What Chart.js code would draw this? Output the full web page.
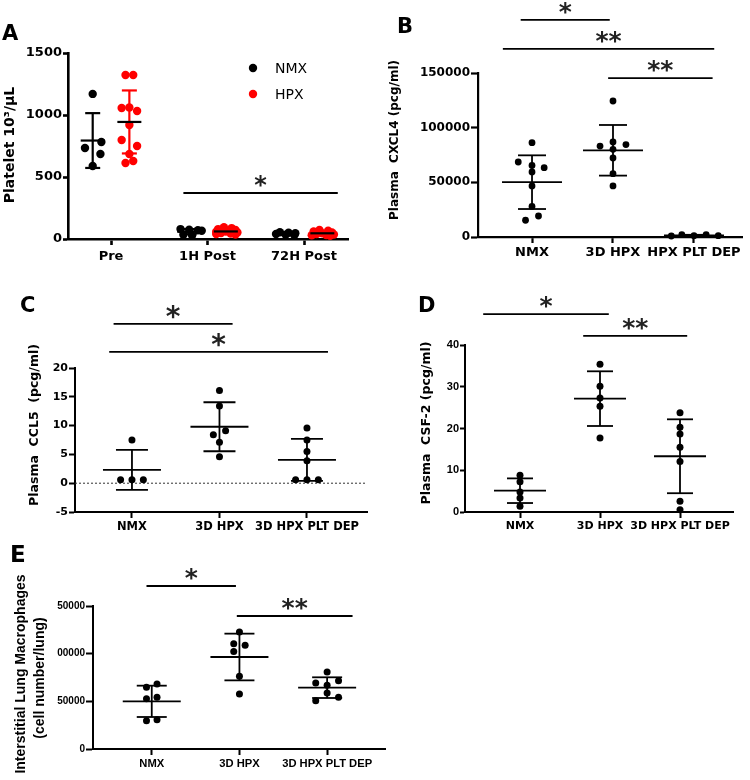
<!DOCTYPE html>
<html>
<head>
<meta charset="utf-8">
<script src="https://cdn.jsdelivr.net/npm/chart.js@4.4.0/dist/chart.umd.min.js"></script>
<style>
  body { margin: 0; background: #fff; }
  #wrap { position: relative; width: 750px; height: 780px; overflow: hidden; }
  canvas { position: absolute; }
</style>
</head>
<body>
<div id="wrap">
  <canvas id="chartA" width="375" height="268" style="left:0;top:0"></canvas>
  <canvas id="chartB" width="370" height="268" style="left:380px;top:0"></canvas>
  <canvas id="chartC" width="375" height="265" style="left:0;top:270px"></canvas>
  <canvas id="chartD" width="370" height="265" style="left:380px;top:270px"></canvas>
  <canvas id="chartE" width="420" height="255" style="left:0;top:525px"></canvas>
</div>
<script>
/* --------------------------
   DATA
-------------------------- */

// A - platelets, two series per time point
const aCategories = ["Pre", "1H Post", "72H Post"];
const aTicks = [0, 500, 1000, 1500];
const aNmxValues = [
    [1170, 734, 782, 685, 589],
    [80, 75, 70, 66, 35, 28],
    [55, 50, 46, 40, 34, 30]
];
const aNmxJitter = [
    [0, -0.08, 0.09, 0.08, 0],
    [-0.09, 0, 0.09, 0.13, -0.06, 0.03],
    [-0.06, 0.03, 0.1, -0.1, 0, 0.09]
];
const aNmxMean = [794, 59, 43];
const aNmxSd = [221, 21, 9];
const aHpxValues = [
    [1323, 1323, 1056, 1060, 1032, 919, 798, 750, 685, 613, 629],
    [95, 88, 80, 72, 64, 58, 52, 48, 44, 40, 36, 60],
    [72, 66, 60, 52, 46, 40, 36, 32, 30, 26]
];
const aHpxJitter = [
    [-0.04, 0.04, -0.08, 0, 0.08, 0, -0.08, 0.08, 0, -0.04, 0.04],
    [-0.02, 0.06, -0.08, 0.1, 0.02, -0.1, 0.12, -0.05, 0.05, -0.1, 0.1, 0],
    [-0.03, 0.06, -0.09, 0.1, 0, -0.06, 0.12, 0.04, -0.11, 0.08]
];
const aHpxMean = [944, 61, 46];
const aHpxSd = [254, 18, 15];
const aSigFrom = [0.75];
const aSigTo = [2.35];
const aSigLevel = [371];
const aSigText = ["*"];

// B - plasma CXCL4
const bCategories = ["NMX", "3D HPX", "HPX PLT DEP"];
const bTicks = [0, 50000, 100000, 150000];
const bValues = [
    [86300, 68600, 65500, 63400, 59500, 46700, 28000, 15300, 19200],
    [124400, 83200, 84500, 86900, 80200, 72300, 57900, 46700],
    [900, 2100, 1200, 2100, 1200]
];
const bJitter = [
    [0, -0.17, 0, 0.15, 0, 0, 0, -0.08, 0.08],
    [0, -0.16, 0.16, 0, 0, 0, 0, 0],
    [-0.28, -0.15, 0, 0.15, 0.3]
];
const bMean = [50150, 79300, 1500];
const bSd = [24550, 23150, 500];
const bSigFrom = [-0.14, -0.36, 0.94];
const bSigTo = [0.96, 2.25, 2.23];
const bSigLevel = [198500, 172000, 145400];
const bSigText = ["*", "**", "**"];

// C - plasma CCL5
const cCategories = ["NMX", "3D HPX", "3D HPX PLT DEP"];
const cTicks = [-5, 0, 5, 10, 15, 20];
const cValues = [
    [7.5, 0.6, 0.6, 0.6],
    [16.1, 13.4, 8.4, 9.1, 7.1, 4.6],
    [9.6, 7.5, 5.5, 3.9, 0.6, 0.6, 0.6]
];
const cJitter = [
    [0, -0.13, 0, 0.13],
    [0, 0, -0.07, 0.07, 0, 0],
    [0, 0, 0, 0, -0.13, 0, 0.13]
];
const cMean = [2.32, 9.8, 4.05];
const cSd = [3.48, 4.25, 3.65];
const cSigFrom = [-0.21, -0.26];
const cSigTo = [1.15, 2.24];
const cSigLevel = [27.65, 22.8];
const cSigText = ["*", "*"];

// D - plasma CSF-2
const dCategories = ["NMX", "3D HPX", "3D HPX PLT DEP"];
const dTicks = [0, 10, 20, 30, 40];
const dValues = [
    [8.8, 7.25, 4.8, 3.35, 1.35],
    [35.4, 30.1, 27.3, 25.3, 17.7],
    [23.8, 20.3, 18.7, 15.5, 12.1, 2.55, 0.56]
];
const dJitter = [
    [0, 0, 0, 0, 0],
    [0, 0, 0, 0, 0],
    [0, 0, 0, 0, 0, 0, 0]
];
const dMean = [5.1, 27.15, 13.35];
const dSd = [2.95, 6.55, 8.85];
const dSigFrom = [-0.46, 0.79];
const dSigTo = [1.11, 2.09];
const dSigLevel = [47.4, 42.2];
const dSigText = ["*", "**"];

// E - interstitial lung macrophages
const eCategories = ["NMX", "3D HPX", "3D HPX PLT DEP"];
const eTicks = [0, 50000, 100000, 150000];
const eTickLabels = ["0", "50000", "00000", "50000"];
const eValues = [
    [64700, 68200, 52800, 54200, 29700, 30800],
    [122700, 110500, 108700, 102400, 76200, 57700],
    [80800, 69200, 71700, 66800, 50700, 58700, 54200]
];
const eJitter = [
    [-0.06, 0.06, -0.06, 0.06, -0.06, 0.06],
    [0, -0.065, 0.065, -0.065, 0, 0],
    [0, -0.13, 0.13, 0, -0.13, 0, 0.13]
];
const eMean = [50000, 96500, 64350];
const eSd = [16430, 24500, 10850];
const eSigFrom = [-0.06, 0.97];
const eSigTo = [0.96, 2.29];
const eSigLevel = [171000, 139500];
const eSigText = ["*", "**"];

/* --------------------------
   HELPERS
-------------------------- */

const DEJAVU = "'DejaVu Sans', sans-serif";
const ARIAL = "'Liberation Sans', Arial, sans-serif";

Chart.defaults.color = "#000";
Chart.defaults.font.family = DEJAVU;

function toPoints(values, jitter, shift) {
    const pts = [];
    values.forEach((grp, i) => {
        grp.forEach((v, j) => pts.push({ x: i + shift + jitter[i][j], y: v }));
    });
    return pts;
}

function sig(from, to, level, text) {
    return from.map((f, i) => ({ from: f, to: to[i], level: level[i], text: text[i] }));
}

function panelPlugin(p) {
    const line = (ctx, x1, y1, x2, y2) => {
        ctx.beginPath();
        ctx.moveTo(x1, y1);
        ctx.lineTo(x2, y2);
        ctx.stroke();
    };
    return {
        id: "panel" + p.letter,
        beforeDatasetsDraw(chart) {
            if (!p.zeroLine) return;
            const { ctx, chartArea, scales } = chart;
            const y0 = scales.y.getPixelForValue(0);
            ctx.save();
            ctx.setLineDash([2, 2]);
            ctx.strokeStyle = "#333";
            ctx.lineWidth = 1;
            line(ctx, chartArea.left, y0, chartArea.right, y0);
            ctx.restore();
        },
        afterDatasetsDraw(chart) {
            const { ctx, scales: { x, y } } = chart;
            ctx.save();
            ctx.lineCap = "butt";
            // mean +/- SD
            p.series.forEach(s => {
                s.mean.forEach((m, i) => {
                    const cx = x.getPixelForValue(i + s.shift);
                    const top = y.getPixelForValue(m + s.sd[i]);
                    const bot = y.getPixelForValue(m - s.sd[i]);
                    const my = y.getPixelForValue(m);
                    ctx.lineWidth = p.barWidth;
                    ctx.strokeStyle = s.barColor;
                    line(ctx, cx, top, cx, bot);
                    line(ctx, cx - p.cap, top, cx + p.cap, top);
                    line(ctx, cx - p.cap, bot, cx + p.cap, bot);
                    ctx.strokeStyle = "#000";
                    line(ctx, cx - p.meanHalf, my, cx + p.meanHalf, my);
                });
            });
            // significance bars
            ctx.strokeStyle = "#000";
            ctx.fillStyle = "#222";
            ctx.lineWidth = 1.8;
            ctx.font = p.starFont;
            ctx.textAlign = "center";
            ctx.textBaseline = "alphabetic";
            const m = ctx.measureText("*");
            const half = (m.actualBoundingBoxAscent - m.actualBoundingBoxDescent) / 2;
            p.sig.forEach(b => {
                const x1 = x.getPixelForValue(b.from);
                const x2 = x.getPixelForValue(b.to);
                const ly = y.getPixelForValue(b.level);
                line(ctx, x1, ly, x2, ly);
                ctx.fillText(b.text, (x1 + x2) / 2, ly - 12 + half);
            });
            ctx.restore();
        },
        afterDraw(chart) {
            const ctx = chart.ctx;
            ctx.save();
            ctx.fillStyle = "#000";
            // panel letter
            ctx.font = p.letterFont;
            ctx.textAlign = "left";
            ctx.textBaseline = "alphabetic";
            ctx.fillText(p.letter, p.letterPos[0], p.letterPos[1]);
            // y title
            ctx.font = p.titleFont;
            ctx.textAlign = "center";
            ctx.textBaseline = "middle";
            p.title.forEach((t, i) => {
                ctx.save();
                ctx.translate(p.titlePos[i][0], p.titlePos[i][1]);
                ctx.rotate(-Math.PI / 2);
                ctx.fillText(t, 0, 0);
                ctx.restore();
            });
            // legend
            if (p.legend) {
                ctx.font = "14px " + DEJAVU;
                ctx.textAlign = "left";
                p.legend.forEach((lg, i) => {
                    const ly = 68 + i * 26;
                    ctx.fillStyle = lg.color;
                    ctx.beginPath();
                    ctx.arc(253, ly, 4.2, 0, Math.PI * 2);
                    ctx.fill();
                    ctx.fillStyle = "#000";
                    ctx.fillText(lg.label, 275, ly + 1);
                });
            }
            ctx.restore();
        }
    };
}

function buildChart(canvasId, p) {
    const datasets = p.series.map(s => ({
        data: toPoints(s.values, s.jitter, s.shift),
        backgroundColor: s.color,
        borderWidth: 0,
        pointRadius: p.dot,
        pointHoverRadius: p.dot,
        clip: false
    }));

    return new Chart(document.getElementById(canvasId), {
        type: "scatter",
        data: { datasets },
        options: {
            responsive: false,
            animation: false,
            events: [],
            layout: { padding: { top: p.box.top, right: p.box.right, left: 0, bottom: 0 } },
            plugins: { legend: { display: false }, tooltip: { enabled: false } },
            scales: {
                x: {
                    type: "linear",
                    min: p.xMin,
                    max: p.xMax,
                    afterBuildTicks: s => { s.ticks = p.categories.map((c, i) => ({ value: i })); },
                    afterFit: s => { s.height = p.box.xH; },
                    ticks: {
                        callback: v => p.categories[v],
                        font: { size: p.xFont, weight: "bold", family: p.xFamily },
                        color: "#000",
                        maxRotation: 0,
                        autoSkip: false,
                        padding: p.xPad
                    },
                    grid: { drawOnChartArea: false, tickLength: 6, tickWidth: p.axisWidth, tickColor: "#000" },
                    border: { color: "#000", width: p.axisWidth }
                },
                y: {
                    type: "linear",
                    min: p.yTicks[0],
                    max: p.yTicks[p.yTicks.length - 1],
                    afterBuildTicks: s => { s.ticks = p.yTicks.map(v => ({ value: v })); },
                    afterFit: s => { s.width = p.box.yW; },
                    ticks: {
                        callback: (v, i) => p.yLabels ? p.yLabels[i] : String(v),
                        font: { size: p.yFont, weight: "bold", family: p.yFamily },
                        color: "#000",
                        padding: 1
                    },
                    grid: { drawOnChartArea: false, tickLength: p.yTick, tickWidth: p.axisWidth, tickColor: "#000" },
                    border: { color: "#000", width: p.axisWidth }
                }
            }
        },
        plugins: [panelPlugin(p)]
    });
}

/* --------------------------
   PANELS
-------------------------- */

buildChart("chartA", {
    letter: "A", letterPos: [2, 40], letterFont: "bold 21px " + DEJAVU,
    title: ["Platelet 10\u00b3/\u03bcL"], titlePos: [[10, 145]], titleFont: "bold 14px " + DEJAVU,
    categories: aCategories, yTicks: aTicks, xMin: -0.446, xMax: 2.456,
    box: { yW: 68, top: 53, right: 27, xH: 29 },
    xFamily: DEJAVU, yFamily: DEJAVU, xFont: 13, yFont: 13, xPad: 4, yTick: 5, axisWidth: 2.6,
    dot: 4.2, barWidth: 2.2, cap: 7.5, meanHalf: 12,
    starFont: "bold 24px " + DEJAVU,
    series: [
        { values: aNmxValues, jitter: aNmxJitter, mean: aNmxMean, sd: aNmxSd, shift: -0.19, color: "#000", barColor: "#000" },
        { values: aHpxValues, jitter: aHpxJitter, mean: aHpxMean, sd: aHpxSd, shift: 0.19, color: "#ff0000", barColor: "#ff0000" }
    ],
    sig: sig(aSigFrom, aSigTo, aSigLevel, aSigText),
    legend: [{ label: "NMX", color: "#000" }, { label: "HPX", color: "#ff0000" }]
});

buildChart("chartB", {
    letter: "B", letterPos: [17, 33], letterFont: "bold 21px " + DEJAVU,
    title: ["Plasma  CXCL4 (pcg/ml)"], titlePos: [[15, 140]], titleFont: "bold 12px " + DEJAVU,
    categories: bCategories, yTicks: bTicks, xMin: -0.667, xMax: 2.593,
    box: { yW: 98, top: 73, right: 8, xH: 31 },
    xFamily: DEJAVU, yFamily: DEJAVU, xFont: 13, yFont: 12, xPad: 2, yTick: 7, axisWidth: 2.2,
    dot: 3.4, barWidth: 1.8, cap: 14, meanHalf: 30,
    starFont: "bold 25px " + DEJAVU,
    series: [{ values: bValues, jitter: bJitter, mean: bMean, sd: bSd, shift: 0, color: "#000", barColor: "#000" }],
    sig: sig(bSigFrom, bSigTo, bSigLevel, bSigText)
});

buildChart("chartC", {
    letter: "C", letterPos: [20, 42], letterFont: "bold 21px " + DEJAVU,
    title: ["Plasma  CCL5  (pcg/ml)"], titlePos: [[35, 155]], titleFont: "bold 12.5px " + DEJAVU,
    categories: cCategories, yTicks: cTicks, xMin: -0.651, xMax: 2.686,
    box: { yW: 75, top: 98, right: 8, xH: 23 },
    xFamily: DEJAVU, yFamily: DEJAVU, xFont: 11.5, yFont: 11, xPad: 2, yTick: 6, axisWidth: 2,
    dot: 3.5, barWidth: 1.8, cap: 16, meanHalf: 29,
    starFont: "bold 28px " + DEJAVU, zeroLine: true,
    series: [{ values: cValues, jitter: cJitter, mean: cMean, sd: cSd, shift: 0, color: "#000", barColor: "#000" }],
    sig: sig(cSigFrom, cSigTo, cSigLevel, cSigText)
});

buildChart("chartD", {
    letter: "D", letterPos: [38, 42], letterFont: "bold 21px " + DEJAVU,
    title: ["Plasma  CSF-2 (pcg/ml)"], titlePos: [[47, 153]], titleFont: "bold 12.5px " + DEJAVU,
    categories: dCategories, yTicks: dTicks, xMin: -0.6875, xMax: 2.6625,
    box: { yW: 85, top: 75, right: 17, xH: 23 },
    xFamily: DEJAVU, yFamily: ARIAL, xFont: 11, yFont: 11, xPad: 2, yTick: 5, axisWidth: 2,
    dot: 3.5, barWidth: 1.8, cap: 13, meanHalf: 26,
    starFont: "bold 25px " + DEJAVU,
    series: [{ values: dValues, jitter: dJitter, mean: dMean, sd: dSd, shift: 0, color: "#000", barColor: "#000" }],
    sig: sig(dSigFrom, dSigTo, dSigLevel, dSigText)
});

buildChart("chartE", {
    letter: "E", letterPos: [10, 37], letterFont: "bold 23px " + DEJAVU,
    title: ["Interstitial Lung Macrophages", "(cell number/lung)"],
    titlePos: [[21, 149], [40, 153]], titleFont: "bold 14px " + ARIAL,
    categories: eCategories, yTicks: eTicks, yLabels: eTickLabels, xMin: -0.67, xMax: 2.66,
    box: { yW: 93, top: 81, right: 35, xH: 31 },
    xFamily: ARIAL, yFamily: ARIAL, xFont: 11.2, yFont: 10, xPad: 2, yTick: 7, axisWidth: 2,
    dot: 3.5, barWidth: 1.8, cap: 15, meanHalf: 29,
    starFont: "bold 25px " + DEJAVU,
    series: [{ values: eValues, jitter: eJitter, mean: eMean, sd: eSd, shift: 0, color: "#000", barColor: "#000" }],
    sig: sig(eSigFrom, eSigTo, eSigLevel, eSigText)
});
</script>
</body>
</html>
